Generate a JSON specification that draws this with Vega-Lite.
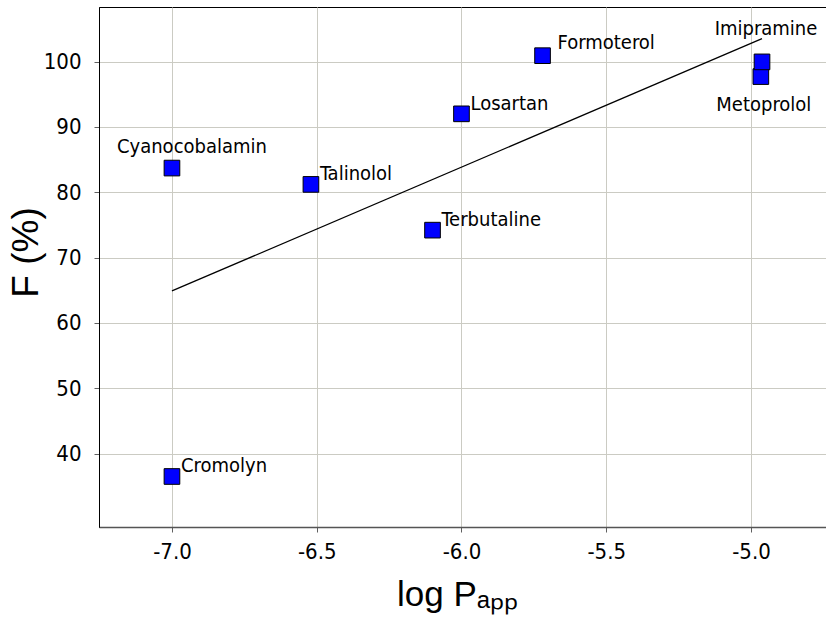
{
  "$schema": "https://vega.github.io/schema/vega-lite/v6.json",
  "width": 728,
  "height": 520,
  "autosize": {"type": "none"},
  "padding": {"left": 99, "top": 7, "right": 0, "bottom": 92},
  "background": "white",
  "config": {
    "view": {"stroke": "black", "strokeWidth": 1},
    "axis": {
      "labelFont": "DejaVu Sans Condensed, Liberation Sans, sans-serif",
      "labelFontSize": 22,
      "labelColor": "black",
      "titleFont": "Liberation Sans",
      "titleFontWeight": "normal",
      "titleColor": "black",
      "gridColor": "#cbcbc3",
      "gridWidth": 1,
      "gridOpacity": 1,
      "tickColor": "#606060",
      "tickSize": 5,
      "tickWidth": 1
    },
    "text": {"font": "DejaVu Sans Condensed, Liberation Sans, sans-serif", "fontSize": 20, "color": "black"}
  },
  "datasets": {
    "drugs": [
      {"name": "Cyanocobalamin", "logPapp": -7.0, "F": 83.7},
      {"name": "Cromolyn", "logPapp": -7.0, "F": 36.5},
      {"name": "Talinolol", "logPapp": -6.52, "F": 81.2},
      {"name": "Terbutaline", "logPapp": -6.1, "F": 74.2},
      {"name": "Losartan", "logPapp": -6.0, "F": 92.0},
      {"name": "Formoterol", "logPapp": -5.72, "F": 100.9},
      {"name": "Metoprolol", "logPapp": -4.966, "F": 97.7},
      {"name": "Imipramine", "logPapp": -4.962, "F": 99.95}
    ],
    "fit": [
      {"logPapp": -7.0, "F": 64.9},
      {"logPapp": -4.962, "F": 103.5}
    ]
  },
  "encoding": {
    "x": {
      "field": "logPapp",
      "type": "quantitative",
      "scale": {"domain": [-7.252, -4.7375], "nice": false, "zero": false},
      "axis": {
        "values": [-7, -6.5, -6, -5.5, -5],
        "format": ".1f",
        "labelExpr": "replace(datum.label, '\u2212', '-')",
        "labelPadding": 9,
        "domainColor": "#555555",
        "domainWidth": 1.5,
        "title": "log Pₐₚₚ",
        "titleFontSize": 35,
        "titleX": 358,
        "titleY": 78,
        "titleAlign": "center",
        "titleBaseline": "alphabetic"
      }
    },
    "y": {
      "field": "F",
      "type": "quantitative",
      "scale": {"domain": [28.77, 108.35], "nice": false, "zero": false},
      "axis": {
        "values": [40, 50, 60, 70, 80, 90, 100],
        "labelPadding": 13,
        "domainColor": "black",
        "domainWidth": 1,
        "title": "F (%)",
        "titleFontSize": 37,
        "titleAngle": -90,
        "titleX": -62,
        "titleY": 245,
        "titleAlign": "center",
        "titleBaseline": "alphabetic"
      }
    }
  },
  "layer": [
    {
      "data": {"name": "fit"},
      "mark": {"type": "line", "color": "black", "strokeWidth": 1.3}
    },
    {
      "data": {"name": "drugs"},
      "mark": {
        "type": "point",
        "shape": "square",
        "filled": true,
        "fill": "#0000ff",
        "stroke": "black",
        "strokeWidth": 1,
        "size": 245,
        "opacity": 1
      }
    },
    {
      "data": {"name": "drugs"},
      "transform": [{"filter": {"field": "name", "oneOf": ["Talinolol", "Losartan", "Terbutaline", "Cromolyn"]}}],
      "mark": {"type": "text", "align": "left", "baseline": "alphabetic", "dx": 9, "dy": -4},
      "encoding": {"text": {"field": "name"}}
    },
    {
      "data": {"name": "drugs"},
      "transform": [{"filter": {"field": "name", "equal": "Formoterol"}}],
      "mark": {"type": "text", "align": "left", "baseline": "alphabetic", "dx": 15, "dy": -7},
      "encoding": {"text": {"field": "name"}}
    },
    {
      "data": {"name": "drugs"},
      "transform": [{"filter": {"field": "name", "equal": "Cyanocobalamin"}}],
      "mark": {"type": "text", "align": "center", "baseline": "alphabetic", "dx": 20, "dy": -15},
      "encoding": {"text": {"field": "name"}}
    },
    {
      "data": {"name": "drugs"},
      "transform": [{"filter": {"field": "name", "equal": "Imipramine"}}],
      "mark": {"type": "text", "align": "center", "baseline": "alphabetic", "dx": 4, "dy": -27},
      "encoding": {"text": {"field": "name"}}
    },
    {
      "data": {"name": "drugs"},
      "transform": [{"filter": {"field": "name", "equal": "Metoprolol"}}],
      "mark": {"type": "text", "align": "center", "baseline": "alphabetic", "dx": 3, "dy": 34},
      "encoding": {"text": {"field": "name"}}
    }
  ]
}
